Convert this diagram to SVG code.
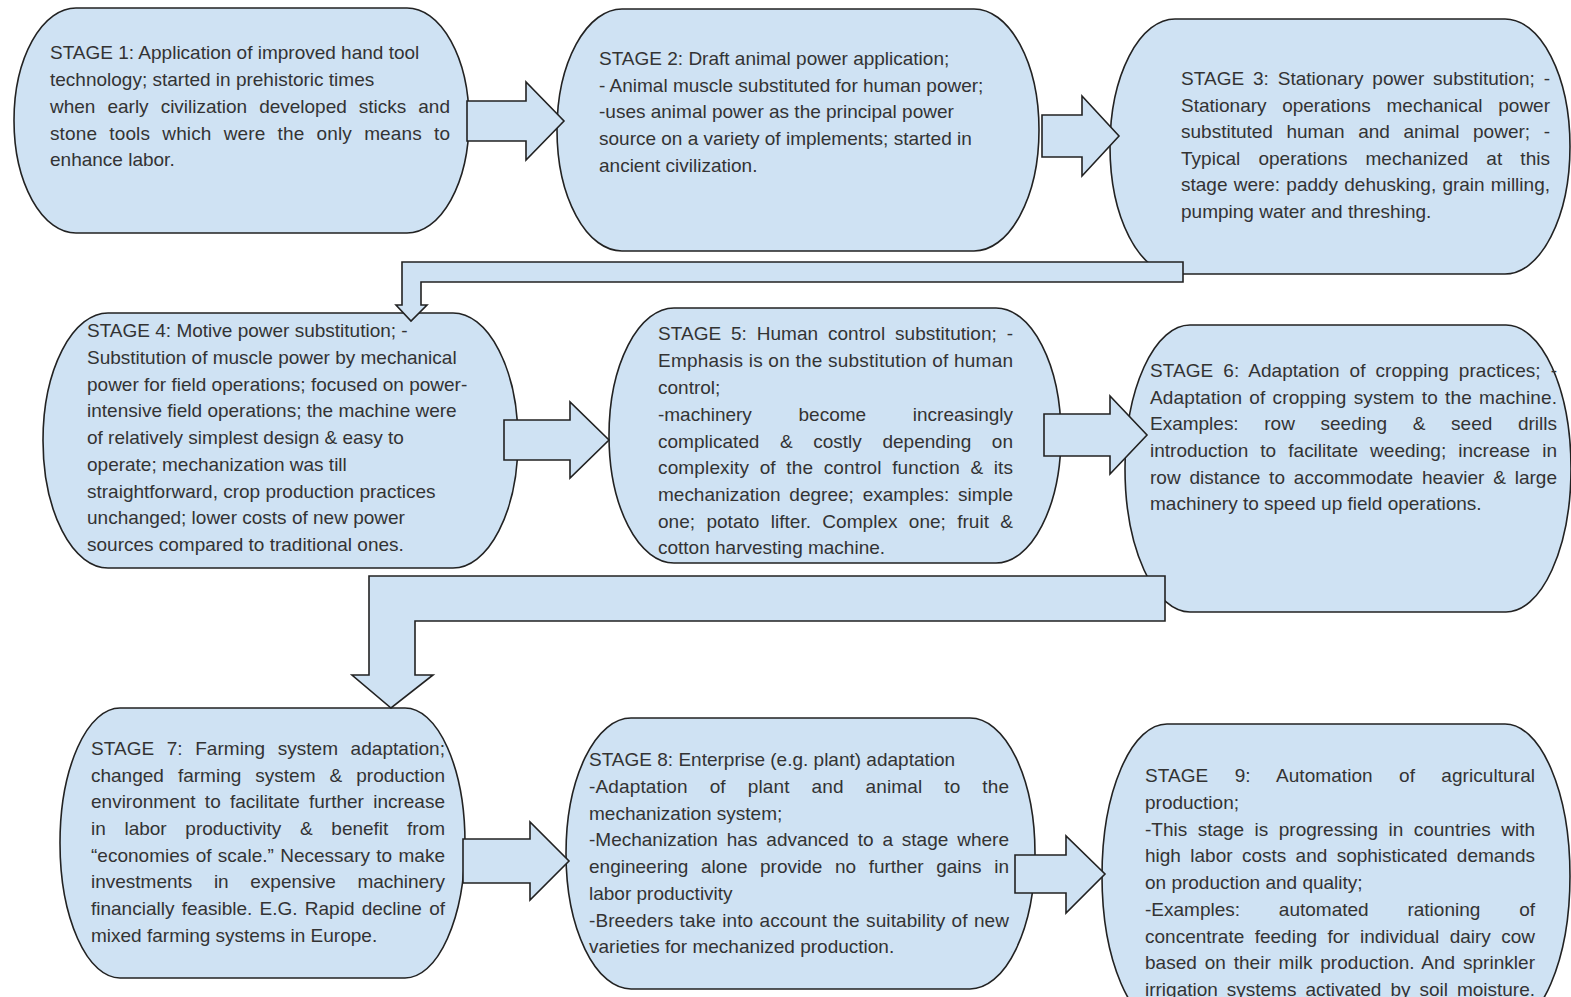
<svg xmlns="http://www.w3.org/2000/svg" width="1571" height="997" viewBox="0 0 1571 997">
<style>
.n{fill:#cfe2f3;stroke:#222;stroke-width:1.6}
.c{fill:#cfe2f3;stroke:#222;stroke-width:1.6;stroke-linejoin:miter}
text{font-family:"Liberation Sans",Arial,sans-serif;font-size:19px;fill:#333}
</style>
<rect width="1571" height="997" fill="#fff"/>
<g id="stage1">
<rect class="n" x="14" y="8" width="455" height="225" rx="62" ry="112.5"/>
<text x="50" y="59">STAGE 1: Application of improved hand tool</text>
<text x="50" y="86">technology; started in prehistoric times</text>
<text x="50" y="112.5" textLength="400" lengthAdjust="spacing" word-spacing="6.8">when early civilization developed sticks and</text>
<text x="50" y="139.5" textLength="400" lengthAdjust="spacing" word-spacing="6.8">stone tools which were the only means to</text>
<text x="50" y="166">enhance labor.</text>
</g>
<g id="stage2">
<rect class="n" x="557" y="9" width="482" height="242" rx="65" ry="121"/>
<text x="599" y="65">STAGE 2: Draft animal power application;</text>
<text x="599" y="91.5">- Animal muscle substituted for human power;</text>
<text x="599" y="118">-uses animal power as the principal power</text>
<text x="599" y="145">source on a variety of implements; started in</text>
<text x="599" y="171.5">ancient civilization.</text>
</g>
<g id="stage3">
<rect class="n" x="1110" y="19" width="460" height="255" rx="65" ry="127.5"/>
<text x="1181" y="85" textLength="369" lengthAdjust="spacing" word-spacing="3.5">STAGE 3: Stationary power substitution; -</text>
<text x="1181" y="111.5" textLength="369" lengthAdjust="spacing" word-spacing="10.4">Stationary operations mechanical power</text>
<text x="1181" y="138" textLength="369" lengthAdjust="spacing" word-spacing="8.3">substituted human and animal power; -</text>
<text x="1181" y="164.5" textLength="369" lengthAdjust="spacing" word-spacing="12.8">Typical operations mechanized at this</text>
<text x="1181" y="191" textLength="369" lengthAdjust="spacing" word-spacing="0.9">stage were: paddy dehusking, grain milling,</text>
<text x="1181" y="217.5">pumping water and threshing.</text>
</g>
<g id="stage4">
<rect class="n" x="43" y="313" width="475" height="255" rx="65" ry="127.5"/>
<text x="87" y="337">STAGE 4: Motive power substitution; -</text>
<text x="87" y="364">Substitution of muscle power by mechanical</text>
<text x="87" y="390.5">power for field operations; focused on power-</text>
<text x="87" y="417">intensive field operations; the machine were</text>
<text x="87" y="444">of relatively simplest design &amp; easy to</text>
<text x="87" y="471">operate; mechanization was till</text>
<text x="87" y="497.5">straightforward, crop production practices</text>
<text x="87" y="524">unchanged; lower costs of new power</text>
<text x="87" y="551">sources compared to traditional ones.</text>
</g>
<g id="stage5">
<rect class="n" x="609" y="308" width="452" height="255" rx="65" ry="127.5"/>
<text x="658" y="340" textLength="355" lengthAdjust="spacing" word-spacing="4.5">STAGE 5: Human control substitution; -</text>
<text x="658" y="367" textLength="355" lengthAdjust="spacing">Emphasis is on the substitution of human</text>
<text x="658" y="394">control;</text>
<text x="658" y="420.5" textLength="355" lengthAdjust="spacing" word-spacing="41.5">-machinery become increasingly</text>
<text x="658" y="447.5" textLength="355" lengthAdjust="spacing" word-spacing="15.3">complicated &amp; costly depending on</text>
<text x="658" y="474" textLength="355" lengthAdjust="spacing" word-spacing="5.1">complexity of the control function &amp; its</text>
<text x="658" y="501" textLength="355" lengthAdjust="spacing" word-spacing="3.6">mechanization degree; examples: simple</text>
<text x="658" y="527.5" textLength="355" lengthAdjust="spacing" word-spacing="6">one; potato lifter. Complex one; fruit &amp;</text>
<text x="658" y="554">cotton harvesting machine.</text>
</g>
<g id="stage6">
<rect class="n" x="1125" y="325" width="446" height="287" rx="65" ry="143.5"/>
<text x="1150" y="377" textLength="407" lengthAdjust="spacing" word-spacing="4.7">STAGE 6: Adaptation of cropping practices; -</text>
<text x="1150" y="403.5" textLength="407" lengthAdjust="spacing" word-spacing="1.8">Adaptation of cropping system to the machine.</text>
<text x="1150" y="430" textLength="407" lengthAdjust="spacing" word-spacing="20.4">Examples: row seeding &amp; seed drills</text>
<text x="1150" y="457" textLength="407" lengthAdjust="spacing" word-spacing="6.8">introduction to facilitate weeding; increase in</text>
<text x="1150" y="483.5" textLength="407" lengthAdjust="spacing" word-spacing="3.6">row distance to accommodate heavier &amp; large</text>
<text x="1150" y="510">machinery to speed up field operations.</text>
</g>
<g id="stage7">
<rect class="n" x="60" y="708" width="405" height="270" rx="60" ry="135"/>
<text x="91" y="755" textLength="354" lengthAdjust="spacing" word-spacing="7.2">STAGE 7: Farming system adaptation;</text>
<text x="91" y="781.5" textLength="354" lengthAdjust="spacing" word-spacing="8.8">changed farming system &amp; production</text>
<text x="91" y="808" textLength="354" lengthAdjust="spacing" word-spacing="4">environment to facilitate further increase</text>
<text x="91" y="835" textLength="354" lengthAdjust="spacing" word-spacing="13.4">in labor productivity &amp; benefit from</text>
<text x="91" y="861.5" textLength="354" lengthAdjust="spacing" word-spacing="1">“economies of scale.” Necessary to make</text>
<text x="91" y="888" textLength="354" lengthAdjust="spacing" word-spacing="16.3">investments in expensive machinery</text>
<text x="91" y="915" textLength="354" lengthAdjust="spacing" word-spacing="2">financially feasible. E.G. Rapid decline of</text>
<text x="91" y="941.5">mixed farming systems in Europe.</text>
</g>
<g id="stage8">
<rect class="n" x="566" y="718" width="469" height="271" rx="65" ry="135.5"/>
<text x="589" y="766">STAGE 8: Enterprise (e.g. plant) adaptation</text>
<text x="589" y="793" textLength="420" lengthAdjust="spacing" word-spacing="16.5">-Adaptation of plant and animal to the</text>
<text x="589" y="819.5">mechanization system;</text>
<text x="589" y="846" textLength="420" lengthAdjust="spacing" word-spacing="3.6">-Mechanization has advanced to a stage where</text>
<text x="589" y="873" textLength="420" lengthAdjust="spacing" word-spacing="7.3">engineering alone provide no further gains in</text>
<text x="589" y="899.5">labor productivity</text>
<text x="589" y="926.5" textLength="420" lengthAdjust="spacing" word-spacing="0.9">-Breeders take into account the suitability of new</text>
<text x="589" y="953">varieties for mechanized production.</text>
</g>
<g id="stage9">
<rect class="n" x="1102" y="724" width="468" height="304" rx="65" ry="152"/>
<text x="1145" y="782" textLength="390" lengthAdjust="spacing" word-spacing="21">STAGE 9: Automation of agricultural</text>
<text x="1145" y="809">production;</text>
<text x="1145" y="835.5" textLength="390" lengthAdjust="spacing" word-spacing="5.2">-This stage is progressing in countries with</text>
<text x="1145" y="862" textLength="390" lengthAdjust="spacing" word-spacing="4.1">high labor costs and sophisticated demands</text>
<text x="1145" y="889">on production and quality;</text>
<text x="1145" y="916" textLength="390" lengthAdjust="spacing" word-spacing="33.5">-Examples: automated rationing of</text>
<text x="1145" y="942.5" textLength="390" lengthAdjust="spacing" word-spacing="5.1">concentrate feeding for individual dairy cow</text>
<text x="1145" y="969" textLength="390" lengthAdjust="spacing" word-spacing="2.5">based on their milk production. And sprinkler</text>
<text x="1145" y="996" textLength="390" lengthAdjust="spacing" word-spacing="3.7">irrigation systems activated by soil moisture.</text>
</g>
<g id="connectors">
<polygon class="c" points="467,101 526,101 526,82 564,121 526,160 526,141 467,141"/>
<polygon class="c" points="1042,115 1082,115 1082,96 1119,136 1082,176 1082,157 1042,157"/>
<polygon class="c" points="1183,262 402,262 402,305 396,305 411,321 427,305 421,305 421,282 1183,282"/>
<polygon class="c" points="504,420 570,420 570,402 609,440 570,478 570,460 504,460"/>
<polygon class="c" points="1044,414 1110,414 1110,396 1147,435 1110,474 1110,456 1044,456"/>
<polygon class="c" points="1165,576 369,576 369,675 352,675 391,708 433,675 415,675 415,621 1165,621"/>
<polygon class="c" points="463,839 530,839 530,822 569,861 530,900 530,883 463,883"/>
<polygon class="c" points="1015,855 1066,855 1066,836 1105,874 1066,913 1066,893 1015,893"/>
</g>
</svg>
